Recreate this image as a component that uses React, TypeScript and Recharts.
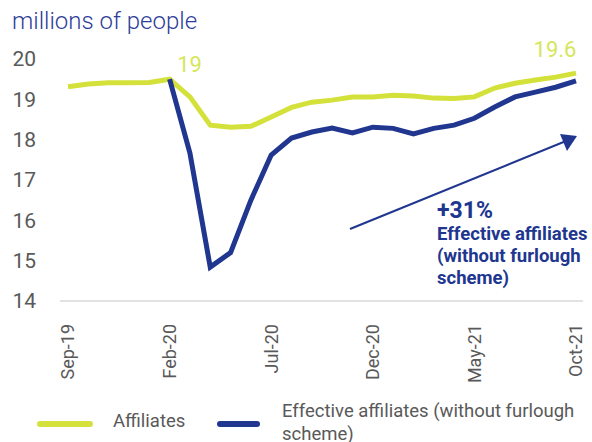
import React from 'react';
import { LineChart, Line, XAxis, YAxis, LabelList } from 'recharts';

const months = [
  'Sep-19', 'Oct-19', 'Nov-19', 'Dec-19', 'Jan-20', 'Feb-20', 'Mar-20', 'Apr-20', 'May-20',
  'Jun-20', 'Jul-20', 'Aug-20', 'Sep-20', 'Oct-20', 'Nov-20', 'Dec-20', 'Jan-21', 'Feb-21',
  'Mar-21', 'Apr-21', 'May-21', 'Jun-21', 'Jul-21', 'Aug-21', 'Sep-21', 'Oct-21',
];

const affiliates = [
  19.31, 19.38, 19.41, 19.41, 19.42, 19.5, 19.06, 18.36, 18.31, 18.33, 18.56, 18.8, 18.93,
  18.98, 19.06, 19.06, 19.1, 19.08, 19.03, 19.02, 19.06, 19.28, 19.4, 19.48, 19.55, 19.65,
];

const effective = [
  null, null, null, null, null, 19.5, 17.67, 14.84, 15.2, 16.5, 17.62, 18.04, 18.19,
  18.29, 18.17, 18.31, 18.28, 18.14, 18.28, 18.36, 18.53, 18.81, 19.06, 19.18, 19.3, 19.46,
];

// value labels shown on the Affiliates line
const affiliateLabels: Record<number, string> = { 5: '19', 25: '19.6' };

const yTicks = [14, 15, 16, 17, 18, 19, 20];

const data = months.map((m, i) => ({ month: m, affiliates: affiliates[i], effective: effective[i] }));

const YELLOW = '#d4e13b';
const YELLOW_LABEL = '#d6e65c';
const BLUE = '#20368f';
const GREY = '#595959';
const FONT = 'Roboto, sans-serif';

const XTick = (props: any) => {
  const { x, y, payload } = props;
  return (
    <text
      x={x}
      y={y + 15}
      transform={`rotate(-90, ${x}, ${y + 15})`}
      textAnchor="end"
      dy="0.36em"
      fill={GREY}
      fontSize={18}
      fontFamily={FONT}
    >
      {payload.value}
    </text>
  );
};

const AffLabel = (props: any) => {
  const { x, y, index } = props;
  const text = affiliateLabels[index];
  if (!text) return null;
  const dx = index === 25 ? -21 : 20;
  const dy = index === 25 ? -16 : -7;
  return (
    <text x={x + dx} y={y + dy} textAnchor="middle" fill={YELLOW_LABEL} fontSize={22} fontFamily={FONT}>
      {text}
    </text>
  );
};

export default function App() {
  return (
    <div style={{ position: 'absolute', left: 0, top: 0, width: 592, height: 442, background: '#fff', fontFamily: FONT }}>
      <LineChart width={592} height={442} data={data} margin={{ top: 59, right: 9, bottom: 51, left: 0 }}>
        <XAxis
          dataKey="month"
          interval={4}
          height={90}
          padding={{ left: 8, right: 7 }}
          axisLine={{ stroke: '#d9d9d9', strokeWidth: 1.5 }}
          tickLine={false}
          tick={<XTick />}
        />
        <YAxis
          domain={[14, 20]}
          ticks={yTicks}
          width={60}
          axisLine={false}
          tickLine={false}
          tickSize={0}
          tickMargin={24}
          tick={{ fill: GREY, fontSize: 21, fontFamily: FONT }}
        />
        <Line
          dataKey="affiliates"
          stroke={YELLOW}
          strokeWidth={5}
          dot={false}
          type="linear"
          isAnimationActive={false}
        >
          <LabelList dataKey="affiliates" content={<AffLabel />} />
        </Line>
        <Line
          dataKey="effective"
          stroke={BLUE}
          strokeWidth={5}
          dot={false}
          type="linear"
          connectNulls={false}
          isAnimationActive={false}
        />
      </LineChart>

      <svg width={592} height={442} style={{ position: 'absolute', left: 0, top: 0, pointerEvents: 'none' }}>
        <text x={12} y={29} fontSize={24} fontWeight={300} fill="#2e3d98" fontFamily={FONT}>millions of people</text>
        <line x1={350} y1={229} x2={566} y2={141} stroke={BLUE} strokeWidth={2} />
        <path d="M577,136 L560,134 L567,151 z" fill={BLUE} />
        <g fill={BLUE} fontFamily={FONT} fontWeight={700}>
          <text x={437} y={218} fontSize={23}>+31%</text>
          <text x={437} y={240} fontSize={18.5}>Effective affiliates</text>
          <text x={437} y={262} fontSize={18.5}>(without furlough</text>
          <text x={437} y={284} fontSize={18.5}>scheme)</text>
        </g>
        <line x1={40} y1={424} x2={90} y2={424} stroke={YELLOW} strokeWidth={6} strokeLinecap="round" />
        <text x={113} y={427} fontSize={18.5} fill={GREY} fontFamily={FONT}>Affiliates</text>
        <line x1={220} y1={424} x2={257} y2={424} stroke={BLUE} strokeWidth={6} strokeLinecap="round" />
        <text x={282} y={417} fontSize={18.5} fill={GREY} fontFamily={FONT}>Effective affiliates (without furlough</text>
        <text x={282} y={440} fontSize={18.5} fill={GREY} fontFamily={FONT}>scheme)</text>
      </svg>
    </div>
  );
}
